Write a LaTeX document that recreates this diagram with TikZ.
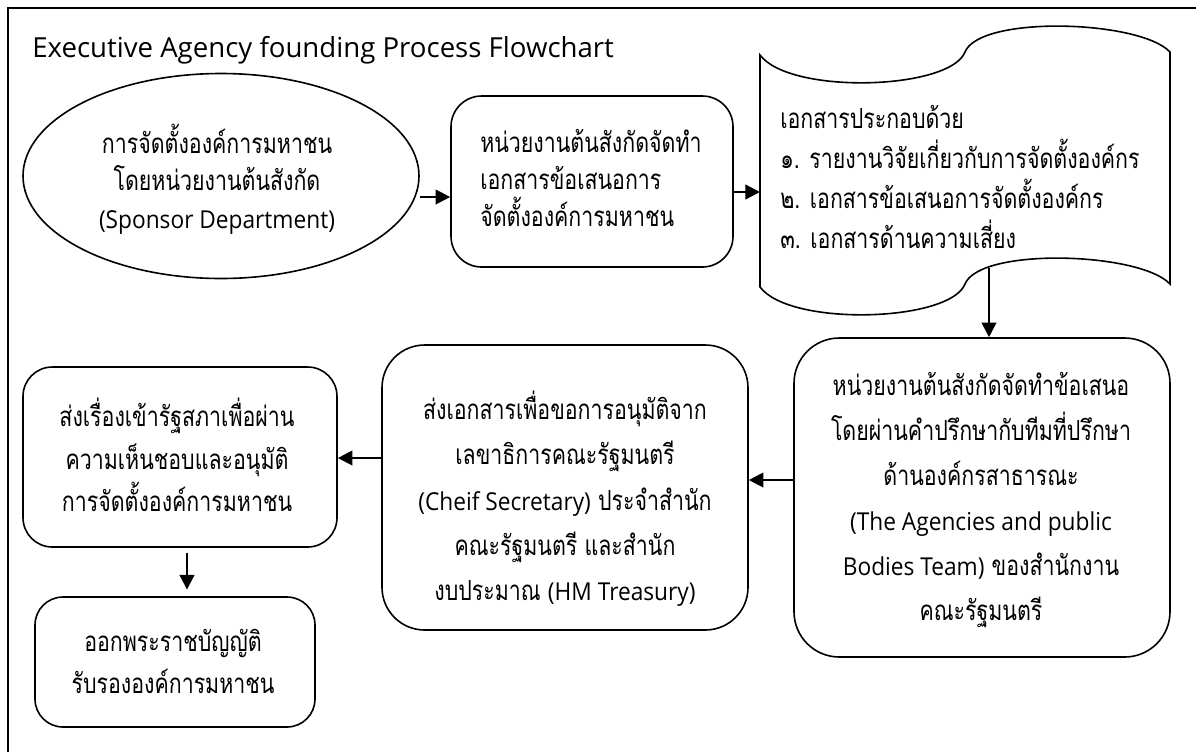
\documentclass[tikz,border=0pt]{standalone}
\usepackage{fontspec}
\setmainfont{Open Sans}
\newfontfamily\thai[Script=Thai,FakeStretch=0.77]{Loma}
\newfontfamily\lat[FakeStretch=0.92]{Open Sans}
\newfontfamily\titlefont{Open Sans}
\usetikzlibrary{shapes.geometric,arrows.meta}
\newcommand\en[1]{{\lat\fontsize{18.5}{30}\selectfont #1}}
\newcommand\thf[1]{\thai\fontsize{20.8}{#1}\selectfont}
\tikzset{
  shapeline/.style={draw, line width=1.2pt, inner sep=0pt},
  arr/.style={line width=1.6pt, -{Triangle[length=11pt,width=11pt]}},
  txt/.style={inner sep=0pt, align=center},
  txtl/.style={inner sep=0pt, align=left},
}
\begin{document}
\begin{tikzpicture}[x=0.75pt,y=-0.75pt]
\useasboundingbox (0,0) rectangle (1196,751);
\clip (0,0) rectangle (1196,751);
% frame
\draw[line width=1.3pt] (8,8) rectangle (1230,790);
% title
\node[inner sep=0pt, anchor=base west, font=\titlefont\fontsize{20.7}{24}\selectfont] (title) at (32,57) {Executive Agency founding Process Flowchart};

% shapes
\node[shapeline, ellipse, minimum width=297pt, minimum height=153.75pt] (ell) at (221,176) {};
\node[shapeline, rounded corners=23pt, minimum width=211.5pt, minimum height=128.25pt] (b2) at (592,181.5) {};
\draw[line width=1.2pt] (760,55) .. controls (790,95) and (950,90) .. (965,52)
  .. controls (980,15) and (1140,20) .. (1170,52) -- (1170,284)
  .. controls (1140,252) and (980,247) .. (965,284)
  .. controls (950,322) and (790,327) .. (760,287) -- cycle;
\coordinate (docL) at (760,192);
\coordinate (docB) at (989,268);
\node[shapeline, rounded corners=34pt, minimum width=282pt, minimum height=239.25pt] (b3) at (982,497.5) {};
\node[shapeline, rounded corners=32pt, minimum width=274.5pt, minimum height=213.75pt] (b4) at (565,487.5) {};
\node[shapeline, rounded corners=22pt, minimum width=235.5pt, minimum height=135pt] (b5) at (180,457) {};
\node[shapeline, rounded corners=21pt, minimum width=210pt, minimum height=97.5pt] (b6) at (175,662) {};

% texts
\node[txt, font=\thf{28}] (t1) at (217,179)
  {การจัดตั้งองค์การมหาชน\\โดยหน่วยงานต้นสังกัด\\\en{(Sponsor Department)}};
\node[txtl, anchor=west, font=\thf{28}] (t2) at (480,178)
  {หน่วยงานต้นสังกัดจัดทำ\\เอกสารข้อเสนอการ\\จัดตั้งองค์การมหาชน};
\node[txtl, anchor=west, font=\thf{30}] (t3) at (780,177)
  {เอกสารประกอบด้วย\\๑. รายงานวิจัยเกี่ยวกับการจัดตั้งองค์กร\\๒. เอกสารข้อเสนอการจัดตั้งองค์กร\\๓. เอกสารด้านความเสี่ยง};
\node[txt, font=\thf{33.75}] (t4) at (981,500)
  {หน่วยงานต้นสังกัดจัดทำข้อเสนอ\\โดยผ่านคำปรึกษากับทีมที่ปรึกษา\\ด้านองค์กรสาธารณะ\\\en{(The Agencies and public}\\\en{Bodies Team)} ของสำนักงาน\\คณะรัฐมนตรี};
\node[txt, font=\thf{34}] (t5) at (565,499)
  {ส่งเอกสารเพื่อขอการอนุมัติจาก\\เลขาธิการคณะรัฐมนตรี\\\en{(Cheif Secretary)} ประจำสำนัก\\คณะรัฐมนตรี และสำนัก\\งบประมาณ \en{(HM Treasury)}};
\node[txt, font=\thf{32}] (t6) at (177,455)
  {ส่งเรื่องเข้ารัฐสภาเพื่อผ่าน\\ความเห็นชอบและอนุมัติ\\การจัดตั้งองค์การมหาชน};
\node[txt, font=\thf{31.5}] (t7) at (173,661)
  {ออกพระราชบัญญัติ\\รับรององค์การมหาชน};

% connectors
\coordinate (y197) at (0,197);
\coordinate (y480) at (0,480);
\coordinate (y458) at (0,458);
\coordinate (x187) at (187,0);
\draw[arr] (ell.east |- y197) -- (b2.west |- y197);
\draw[arr] (b2.east |- docL) -- (docL);
\draw[arr] (docB) -- (docB |- b3.north);
\draw[arr] (b3.west |- y480) -- (b4.east |- y480);
\draw[arr] (b4.west |- y458) -- (b5.east |- y458);
\draw[arr, shorten <=4pt, shorten >=5pt] (b5.south -| x187) -- (b6.north -| x187);
\end{tikzpicture}
\end{document}
